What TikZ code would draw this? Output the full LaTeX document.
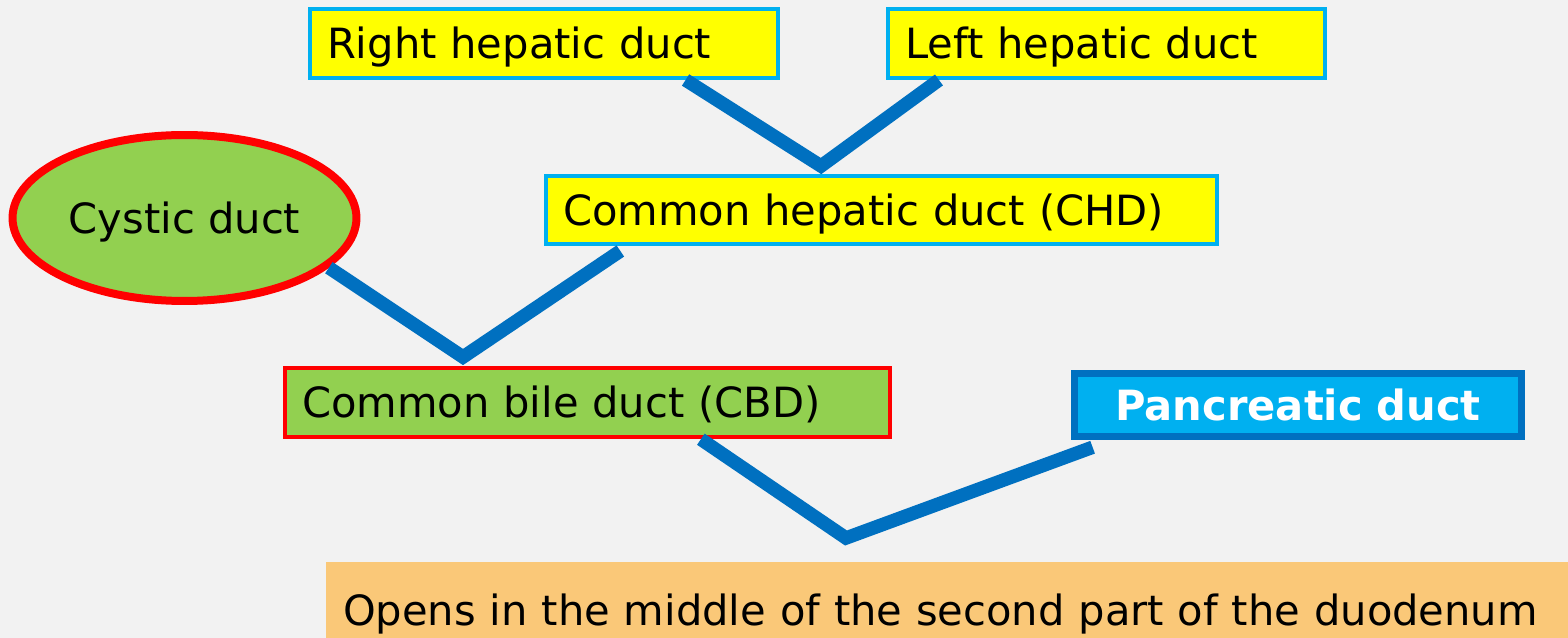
\documentclass[tikz,border=0pt]{standalone}
\usepackage{fontspec}
\setmainfont{DejaVu Sans}
\usetikzlibrary{shapes.geometric,calc}

\definecolor{paper}{HTML}{F2F2F2}
\definecolor{hepyellow}{HTML}{FFFF00}
\definecolor{hepcyan}{HTML}{00B0F0}
\definecolor{bilegreen}{HTML}{92D050}
\definecolor{ductblue}{HTML}{0070C0}
\definecolor{notebg}{HTML}{FAC878}

\begin{document}
\begin{tikzpicture}[
  x=0.02cm, y=-0.02cm,
  box/.style={rectangle, draw, align=left, inner xsep=0.34cm, minimum height=1.38cm,
              text height=17.2pt, text depth=0pt},
  hepatic/.style={box, fill=hepyellow, draw=hepcyan, line width=0.08cm},
  bile/.style={box, fill=bilegreen, draw=red, line width=0.09cm},
  duct/.style={draw=ductblue, line width=0.27cm},
  font=\fontsize{23.7}{28}\selectfont
]
\useasboundingbox[fill=paper] (0,0) rectangle (1568,638);

\node[hepatic, text width=8.68cm] (rhd) at (544,43.5) {Right hepatic duct};
\node[hepatic, text width=8.06cm] (lhd) at (1106.5,43.5) {Left hepatic duct};
\node[hepatic, text width=12.74cm, minimum height=1.36cm] (chd) at (881.5,210) {Common hepatic duct (CHD)};
\node[ellipse, draw=red, fill=bilegreen, line width=0.16cm, minimum width=6.74cm, minimum height=3.32cm,
      text height=17.2pt, text depth=0pt] (cyst) at (184.5,218) {Cystic duct\hspace{0.3cm}};
\node[bile, text width=11.42cm] (cbd) at (587.5,402.5) {Common bile duct (CBD)};
\node[box, fill=hepcyan, draw=ductblue, line width=0.15cm, align=center, text width=8.26cm, minimum height=1.26cm,
      text=white, font=\fontsize{23.7}{28}\selectfont\bfseries] (pd) at (1298,405) {Pancreatic duct};
\node[box, fill=notebg, draw=none, text width=24.72cm, minimum height=1.94cm] (note) at (961,610.5)
  {Opens in the middle of the second part of the duodenum};

% junctions
\coordinate (hj) at (821,166);
\coordinate (cj) at (463,357);
\coordinate (aj) at (846,538);

% ducts
\draw[duct] ($(rhd.south west)!0.8!(rhd.south east)$) -- (hj) -- ($(lhd.south west)!0.12!(lhd.south east)$);
\draw[duct] (cyst.-19) -- (cj) -- ([yshift=-0.1cm]$(chd.south west)!0.113!(chd.south east)$);
\draw[duct] ($(cbd.south west)!0.686!(cbd.south east)$) -- (aj) -- ([yshift=-0.14cm]$(pd.south west)!0.048!(pd.south east)$);
\end{tikzpicture}
\end{document}
